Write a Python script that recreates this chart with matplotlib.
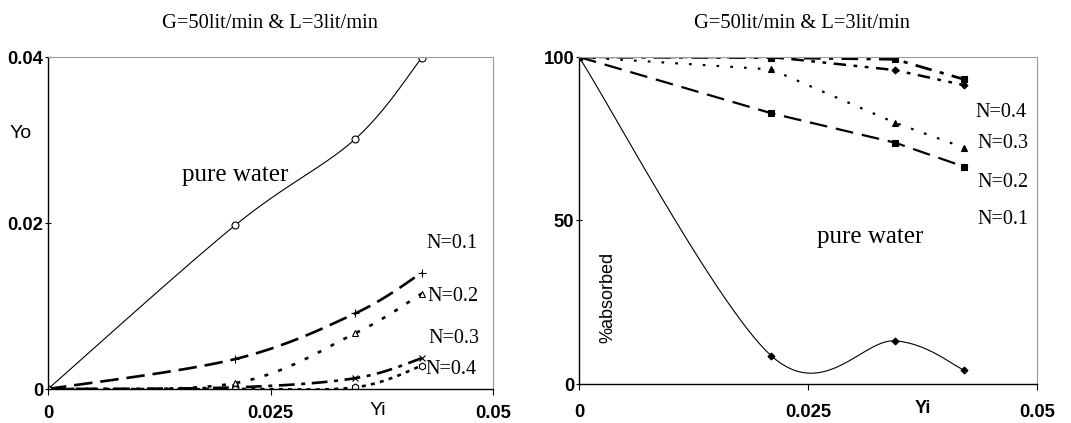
import numpy as np
import matplotlib
matplotlib.use("Agg")
import matplotlib.pyplot as plt

# data
yi = [0, 0.021, 0.0345, 0.042]

yo_water = [0, 0.0197, 0.0301, 0.0399]
yo_n1 = [0, 0.0036, 0.0091, 0.0140]
yo_n2 = [0, 0.0007, 0.0067, 0.0115]
yo_n3 = [0, 0.0002, 0.0013, 0.0037]
yo_n4 = [0, 0.0000, 0.0002, 0.0028]

abs_water = [100, 8.6, 13.2, 4.3]
abs_n1 = [100, 82.8, 73.8, 66.5]
abs_n2 = [100, 96.2, 79.9, 72.3]
abs_n3 = [100, 100.0, 96.0, 91.4]
abs_n4 = [100, 99.8, 99.3, 93.2]

title = "G=50lit/min & L=3lit/min"
SERIF = "Liberation Serif"
SANS = "Liberation Sans"


def smooth(x, y, n=30):
    """Excel-like smoothed line (Catmull-Rom as cubic Bezier)."""
    p = np.column_stack([x, y]).astype(float)
    p = np.vstack([p[0], p, p[-1]])
    t = np.linspace(0, 1, n)[:, None]
    out = []
    for i in range(1, len(p) - 2):
        p0, p1 = p[i], p[i + 1]
        c1 = p0 + (p[i + 1] - p[i - 1]) / 6
        c2 = p1 - (p[i + 2] - p[i]) / 6
        seg = ((1 - t) ** 3) * p0 + 3 * ((1 - t) ** 2) * t * c1 + 3 * (1 - t) * t ** 2 * c2 + t ** 3 * p1
        out.append(seg if i == 1 else seg[1:])
    s = np.vstack(out)
    return s[:, 0], s[:, 1]


def series(ax, x, y, ls, lw, marker, ms, mfc, curved=True):
    if curved:
        sx, sy = smooth(x, y)
    else:
        sx, sy = x, y
    ax.plot(sx, sy, color="black", lw=lw, linestyle=ls, dash_capstyle="butt")
    ax.plot(x, y, linestyle="none", marker=marker, ms=ms, mfc=mfc, mec="black", mew=0.8)


def style_axes(ax, xpad):
    ax.spines["top"].set_color("#9a9a9a")
    ax.spines["right"].set_color("#9a9a9a")
    ax.spines["left"].set_color("black")
    ax.spines["bottom"].set_color("black")
    ax.spines["left"].set_linewidth(1.0)
    ax.spines["bottom"].set_linewidth(1.0)
    ax.set_xlim(0, 0.05)
    ax.set_xticks([0, 0.025, 0.05])
    ax.set_xticklabels(["0", "0.025", "0.05"])
    ax.tick_params(axis="y", direction="inout", length=5, width=0.8, pad=1)
    ax.tick_params(axis="x", direction="out", length=4, width=0.8, pad=xpad)
    for lab in ax.get_xticklabels() + ax.get_yticklabels():
        lab.set_fontfamily(SANS)
        lab.set_fontweight("bold")
        lab.set_fontsize(13.3)


W, H = 1071, 423
fig = plt.figure(figsize=(W / 100, H / 100), dpi=100)
fig.patch.set_facecolor("white")

# left panel: Yo vs Yi
ax1 = fig.add_axes([48 / W, (H - 389) / H, 445 / W, 332 / H])
series(ax1, yi, yo_water, "-", 0.8, "o", 5, "white")
series(ax1, yi, yo_n1, (0, (7, 3)), 1.9, "+", 6, "none")
series(ax1, yi, yo_n2, (0, (1.5, 4)), 1.9, "^", 4.5, "white")
series(ax1, yi, yo_n3, (0, (6, 2.5, 1.5, 2.5)), 1.9, "x", 5, "none")
series(ax1, yi, yo_n4, (0, (1.5, 2)), 1.9, "h", 5, "white")
ax1.set_ylim(0, 0.04)
ax1.set_yticks([0, 0.02, 0.04])
ax1.set_yticklabels(["0", "0.02", "0.04"])
style_axes(ax1, 7.5)

ax1.text(0.01506, 0.0258, "pure water", family=SERIF, fontsize=18, ha="left", va="center")
ax1.text(0.04247, 0.01759, "N=0.1", family=SERIF, fontsize=14.5, ha="left", va="center")
ax1.text(0.04258, 0.0112, "N=0.2", family=SERIF, fontsize=14.5, ha="left", va="center")
ax1.text(0.04270, 0.00614, "N=0.3", family=SERIF, fontsize=14.5, ha="left", va="center")
ax1.text(0.04236, 0.00229, "N=0.4", family=SERIF, fontsize=14.5, ha="left", va="center")

fig.text(270 / W, 1 - 23 / H, title, family=SERIF, fontsize=14.8, ha="center", va="center")
fig.text(21 / W, 1 - 133 / H, "Yo", family=SANS, fontsize=14, ha="center", va="center")
fig.text(378 / W, 1 - 410 / H, "Yi", family=SANS, fontsize=14, ha="center", va="center")

# right panel: % absorbed vs Yi
ax2 = fig.add_axes([579 / W, (H - 384) / H, 458 / W, 327 / H])
series(ax2, yi, abs_water, "-", 0.8, "D", 3.5, "black")
series(ax2, yi, abs_n1, (0, (8, 4)), 1.6, "s", 4, "black", curved=False)
series(ax2, yi, abs_n2, (0, (1.2, 5)), 1.6, "^", 4.5, "black", curved=False)
series(ax2, yi, abs_n3, (0, (5, 3, 1.5, 3, 1.5, 3)), 1.8, "D", 3.5, "black", curved=False)
series(ax2, yi, abs_n4, (0, (6, 3, 1.5, 3)), 2.0, "s", 4.5, "black", curved=False)
ax2.set_ylim(0, 100)
ax2.set_yticks([0, 50, 100])
ax2.set_yticklabels(["0", "50", "100"])
style_axes(ax2, 10.5)

ax2.text(0.04323, 82.9, "N=0.4", family=SERIF, fontsize=14.5, ha="left", va="center")
ax2.text(0.04345, 73.4, "N=0.3", family=SERIF, fontsize=14.5, ha="left", va="center")
ax2.text(0.04345, 61.5, "N=0.2", family=SERIF, fontsize=14.5, ha="left", va="center")
ax2.text(0.04345, 50.2, "N=0.1", family=SERIF, fontsize=14.5, ha="left", va="center")
ax2.text(0.02598, 45.0, "pure water", family=SERIF, fontsize=18, ha="left", va="center")
ax2.text(0.00317, 26.6, "%absorbed", family=SANS, fontsize=13, rotation=90, ha="center", va="center")

fig.text(802 / W, 1 - 23 / H, title, family=SERIF, fontsize=14.8, ha="center", va="center")
fig.text(923 / W, 1 - 408 / H, "Yi", family=SANS, fontsize=13, fontweight="bold", ha="center", va="center")

fig.savefig("out.png", dpi=100)
